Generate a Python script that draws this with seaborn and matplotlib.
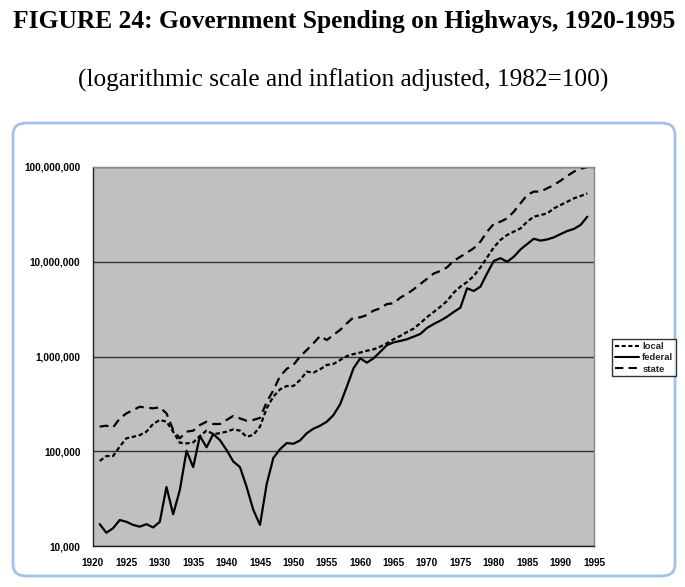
import numpy as np
import pandas as pd
import matplotlib
matplotlib.use("Agg")
import matplotlib.pyplot as plt
import seaborn as sns
from matplotlib.patches import FancyBboxPatch
from matplotlib.ticker import FuncFormatter, FixedLocator, NullLocator

# Highway spending, 1982 dollars
years = list(range(1921, 1995))

federal = [
    17000, 13800, 15400, 18800, 18000, 16700, 16000, 17000, 15700, 18000,
    42000, 21600, 39000, 101000, 68000, 145000, 110000, 152000, 131000, 103000,
    78000, 68000, 42000, 24000, 16700, 45000, 85000, 105000, 122000, 120000,
    130000, 155000, 173000, 186000, 205000, 241000, 314000, 481000, 750000, 957000,
    861000, 957000, 1120000, 1320000, 1410000, 1460000, 1520000, 1620000, 1730000, 2000000,
    2200000, 2390000, 2630000, 2950000, 3280000, 5250000, 4910000, 5460000, 7550000, 10200000,
    10900000, 10000000, 11300000, 13500000, 15400000, 17500000, 16700000, 17200000, 18100000, 19600000,
    21100000, 22200000, 24500000, 29900000,
]

local = [
    79000, 89000, 89000, 112000, 137000, 142000, 148000, 161000, 194000, 214000,
    205000, 161000, 123000, 121000, 124000, 145000, 165000, 152000, 155000, 161000,
    170000, 165000, 142000, 149000, 182000, 284000, 377000, 450000, 488000, 488000,
    565000, 692000, 676000, 733000, 814000, 834000, 919000, 1010000, 1060000, 1100000,
    1150000, 1190000, 1270000, 1380000, 1520000, 1650000, 1810000, 1970000, 2250000, 2600000,
    2950000, 3350000, 3850000, 4720000, 5460000, 6120000, 7080000, 8730000, 11100000, 14200000,
    17000000, 19200000, 20800000, 22500000, 26500000, 29900000, 31100000, 32400000, 36600000, 39700000,
    43000000, 46700000, 49400000, 52700000,
]

state = [
    182000, 186000, 178000, 222000, 251000, 272000, 295000, 288000, 284000, 291000,
    251000, 168000, 137000, 161000, 165000, 189000, 205000, 194000, 194000, 214000,
    236000, 222000, 210000, 214000, 225000, 330000, 440000, 620000, 740000, 815000,
    1000000, 1170000, 1380000, 1650000, 1490000, 1690000, 1910000, 2240000, 2590000, 2590000,
    2740000, 3050000, 3220000, 3580000, 3640000, 4180000, 4570000, 5120000, 5830000, 6600000,
    7500000, 8000000, 8730000, 10200000, 11300000, 12500000, 13900000, 16300000, 20800000, 25100000,
    26500000, 28700000, 33800000, 41400000, 50700000, 55000000, 55000000, 59600000, 64600000, 71800000,
    80400000, 89400000, 96000000, 100000000,
]

series_names = ["local", "federal", "state"]

df = pd.DataFrame({"year": years, "local": local, "federal": federal, "state": state})
long_df = df.melt(id_vars="year", var_name="series", value_name="spending")

sns.set_style("white")
plt.rcParams["font.family"] = ["Liberation Sans", "DejaVu Sans"]

fig = plt.figure(figsize=(6.85, 5.87), dpi=100)

# Titles above the chart object
serif = ["Liberation Serif", "DejaVu Serif"]
fig.text(0.503, 0.963, "FIGURE 24: Government Spending on Highways, 1920-1995",
         ha="center", va="center", fontsize=18.4, fontweight="bold",
         color="black", family=serif)
fig.text(0.501, 0.864, "(logarithmic scale and inflation adjusted, 1982=100)",
         ha="center", va="center", fontsize=18.2, color="black", family=serif)

# Excel-style chart frame, drawn behind the axes
frame = FancyBboxPatch((13 / 685, 1 - 576 / 587), (675 - 13) / 685, (576 - 123) / 587,
                       boxstyle="round,pad=0,rounding_size=0.02",
                       transform=fig.transFigure, facecolor="white",
                       edgecolor="#A4C2E8", linewidth=2.0, zorder=-5)
fig.patches.append(frame)

ax = fig.add_axes([93 / 685, 1 - 546 / 587, (594 - 93) / 685, (546 - 167) / 587])
ax.set_facecolor("#C0C0C0")

sns.lineplot(data=long_df, x="year", y="spending", style="series",
             style_order=series_names,
             dashes={"local": (2, 1.2), "federal": "", "state": (4, 2.5)},
             color="black", linewidth=1.6, legend=False, ax=ax)

ax.set_yscale("log")
ax.set_ylim(1e4, 1e8)
ax.set_xlim(1920, 1995)
ax.yaxis.set_major_locator(FixedLocator([1e4, 1e5, 1e6, 1e7, 1e8]))
ax.yaxis.set_minor_locator(NullLocator())
ax.yaxis.set_major_formatter(FuncFormatter(lambda v, p: f"{int(round(v)):,}"))
ax.set_xticks(range(1920, 1996, 5))
ax.grid(True, axis="y", color="#333333", linewidth=1.0)
ax.set_axisbelow(True)
ax.set_xlabel("")
ax.set_ylabel("")

for side in ["top", "right"]:
    ax.spines[side].set_color("#888888")
    ax.spines[side].set_linewidth(1.0)
for side in ["left", "bottom"]:
    ax.spines[side].set_color("#222222")
    ax.spines[side].set_linewidth(1.0)

ax.tick_params(axis="both", which="major", direction="out", length=4, width=0.8,
               color="#222222", labelsize=7.2, labelcolor="black", pad=5)
for lbl in ax.get_xticklabels() + ax.get_yticklabels():
    lbl.set_fontweight("bold")

# Legend to the right of the plot
handles = [
    plt.Line2D([], [], color="black", linewidth=1.5, dashes=(2, 1.2)),
    plt.Line2D([], [], color="black", linewidth=1.5),
    plt.Line2D([], [], color="black", linewidth=1.5, dashes=(4, 2.5)),
]
leg = fig.legend(handles, series_names, loc="upper left",
                 bbox_to_anchor=(612 / 685, 1 - 339 / 587),
                 prop={"size": 6.8, "weight": "bold"}, frameon=True, fancybox=False,
                 handlelength=2.6, handletextpad=0.3, borderpad=0.3, labelspacing=0.25,
                 borderaxespad=0)
leg.get_frame().set_edgecolor("black")
leg.get_frame().set_linewidth(1.0)

fig.savefig("out.png", dpi=100)
